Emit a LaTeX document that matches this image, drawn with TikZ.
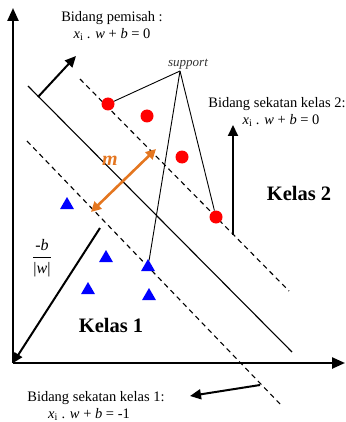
\documentclass[tikz,border=0pt]{standalone}
\usepackage{amsmath}
\usepackage{fontspec}
\setmainfont{Liberation Serif}
\usetikzlibrary{shapes.geometric, arrows.meta, positioning}
\definecolor{marginorange}{RGB}{228,118,32}

\begin{document}
\begin{tikzpicture}[
			x=1pt, y=-1pt,
			axis/.style={line width=2.4pt, -{Triangle[length=13pt, width=11pt]}},
			plane/.style={line width=1.1pt},
			margin/.style={line width=1.1pt, dash pattern=on 5pt off 4pt},
			normal/.style={line width=2pt, -{Triangle[length=11pt, width=10pt]}},
			pointer/.style={line width=0.9pt},
			txt/.style={font=\fontsize{14.5}{17.5}\selectfont, align=center, inner sep=0pt},
			redpt/.style={circle, fill=red, minimum size=13pt, inner sep=0pt},
			bluept/.style={regular polygon, regular polygon sides=3, fill=blue, minimum size=16pt, inner sep=0pt}
			]
			\useasboundingbox (0,0) rectangle (345,422);
			% axes
			\coordinate (origin) at (13,363);
			\coordinate (ytop) at (13,8);
			\coordinate (xend) at (345,363);
			\draw[axis] (origin) -- (ytop);
			\draw[axis] (origin) -- (xend);
			% planes
			\coordinate (sepA) at (28,86);
			\coordinate (sepB) at (292,352);
			\coordinate (upA) at (80,79);
			\coordinate (upB) at (289,291);
			\coordinate (lowA) at (27,141);
			\coordinate (lowB) at (282,406);
			\draw[plane] (sepA) -- (sepB);
			\draw[margin] (upA) -- (upB);
			\draw[margin] (lowA) -- (lowB);
			% class 2 points
			\node[redpt] (r1) at (108,104) {};
			\node[redpt] (r2) at (147,116) {};
			\node[redpt] (r3) at (182,157) {};
			\node[redpt] (r4) at (216,217) {};
			% class 1 points
			\node[bluept] (b1) at (67,205) {};
			\node[bluept] (b2) at (106,258) {};
			\node[bluept] (b3) at (148,267) {};
			\node[bluept] (b4) at (88,290) {};
			\node[bluept] (b5) at (149,296) {};
			% support vectors
			\node[font=\itshape\fontsize{13}{13}\selectfont, text=black!80, inner sep=0pt] (sup) at (188,64) {support};
			\coordinate (apex) at (180,71);
			\draw[pointer] (apex) -- (r1);
			\draw[pointer] (apex) -- (b3);
			\draw[pointer] (apex) -- (r4);
			% normals
			\coordinate (n0) at (38,97);
			\coordinate (n1) at (76,56);
			\draw[normal] (n0) -- (n1);
			\coordinate (k2a) at (233,235);
			\coordinate (k2b) at (233,125);
			\draw[normal] (k2a) -- (k2b);
			\coordinate (k1a) at (260,385);
			\coordinate (k1b) at (190,396);
			\draw[normal] (k1a) -- (k1b);
			\coordinate (ba) at (100,228);
			\draw[line width=2pt, -{Triangle[length=10pt, width=9pt]}] (ba) -- (origin);
			% margin
			\coordinate (ma) at (156,149);
			\coordinate (mb) at (91,212);
			\draw[marginorange, line width=2.6pt, {Triangle[length=10pt, width=10pt]}-{Triangle[length=10pt, width=10pt]}] (ma) -- (mb);
			\node[text=marginorange, font=\bfseries\itshape\fontsize{20}{20}\selectfont] (m) at (110,161) {m};
			% labels
			\node[txt] (pemisah) at (112,26) {Bidang pemisah :\\{\itshape x}\textsubscript{i} . {\itshape w} + {\itshape b} = 0};
			\node[txt] (sekat2) at (277,112) {Bidang sekatan kelas 2:\\\hspace*{8pt}{\itshape x}\textsubscript{i} . {\itshape w} + {\itshape b} = 0};
			\node[txt] (sekat1) at (96,406) {Bidang sekatan kelas 1:\\{\itshape x}\textsubscript{i} . {\itshape w} + {\itshape b} = -1\hspace*{14pt}};
			\node[txt, font=\bfseries\fontsize{20.5}{20.5}\selectfont] (kelas2) at (299,193) {Kelas 2};
			\node[txt, font=\bfseries\fontsize{20.5}{20.5}\selectfont] (kelas1) at (111,325) {Kelas 1};
			\node[txt, font=\fontsize{16}{18}\selectfont] (bw) at (42,258) {$\dfrac{\text{\itshape -b}}{\text{|\itshape w\upshape|}}$};
		\end{tikzpicture}
\end{document}
